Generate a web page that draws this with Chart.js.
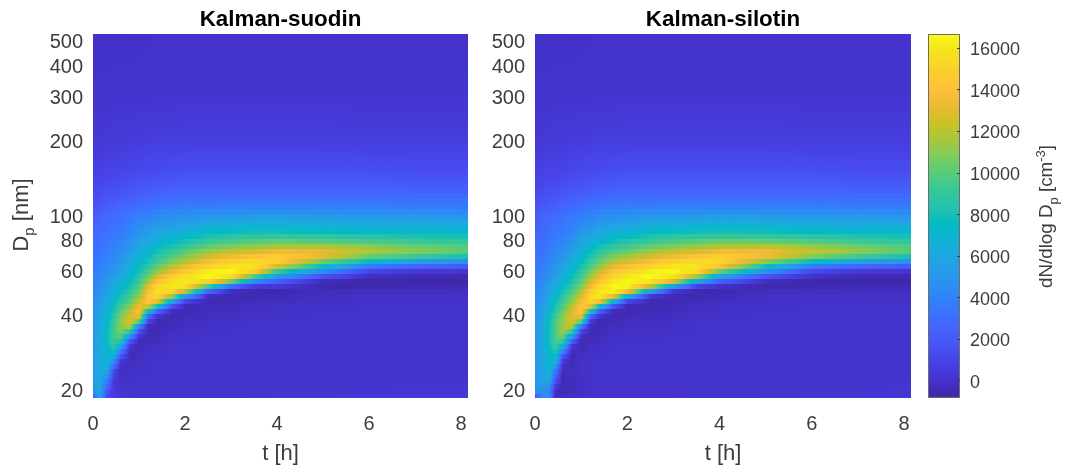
<!DOCTYPE html>
<html><head><meta charset="utf-8">
<script src="https://cdn.jsdelivr.net/npm/chart.js@4"></script>
<style>html,body{margin:0;padding:0;background:#fff;width:1066px;height:468px;overflow:hidden}canvas{position:absolute;top:0}</style>
</head><body>
<canvas id="a" width="480" height="468" style="left:0"></canvas>
<canvas id="b" width="440" height="468" style="left:480px"></canvas>
<canvas id="c" width="146" height="468" style="left:920px"></canvas>
<script>
const panelTitles=["Kalman-suodin","Kalman-silotin"];
const xTicks=[0,2,4,6,8];
const yTicks=[20,40,60,80,100,200,300,400,500];
const cbTicks=[0,2000,4000,6000,8000,10000,12000,14000,16000];
const tHours=[0,.15,.3,.45,.6,.8,1,1.2,1.4,1.7,2,2.5,3,3.5,4,5,6,7,8.17];
const dpNm=[18.6,20,22,24,26,28,30,32,34,36,38,40,42,44,46,48,50,52,54,56,58,60,62,64,66,68,70,73,76,80,85,90,100,110,125,150,200,300,538];
// thousands of cm^-3; one line per time, one value per diameter
const suodin=[
[1,5,5.2,5.2,5.2,5.2,5,5,5,4.9,4.8, 4.7,4.6,4.5,4.3,4.2,4.1,4,3.9,3.8,3.7,3.6, 3.5,3.4,3.3,3.2,3.1,3,2.9,2.8,2.6,2.4, 2.1,1.7,1.2,.7,.3,.05,-.1],
[6,6,6,6,6.1,6.2,6.3,6.3,6.2,6,5.9, 5.7,5.5,5.4,5.2,5,4.8,4.6,4.5,4.3,4.1,4, 3.9,3.8,3.6,3.5,3.4,3.3,3.2,3,2.9,2.7, 2.4,1.9,1.3,.8,.3,.05,-.1],
[1,2,4,6.5,6.9,7,7.3,7.5,7.4,7.2,7, 6.8,6.6,6.3,6.1,5.8,5.5,5.2,5,4.8,4.6,4.4, 4.3,4.2,4,3.9,3.8,3.6,3.5,3.3,3.1,2.9, 2.6,2.1,1.5,.9,.35,.05,-.1],
[.5,.5,.4,1.4,4.5,7.5,8.8,9.5,9.5,9.3,9, 8.6,8.1,7.7,7.3,6.9,6.5,6.1,5.8,5.5,5.2,5, 4.8,4.6,4.4,4.3,4.2,4,3.8,3.6,3.4,3.2, 2.8,2.3,1.6,.9,.4,.1,-.1],
[.3,.2,-.2,-.3,.3,2.5,6,9.3,10.8,11,11, 10.5,9.8,9,8.5,7.9,7.4,6.9,6.5,6.2,5.9,5.7, 5.4,5.2,5,4.8,4.7,4.4,4.2,3.9,3.6,3.4, 3,2.5,1.7,1,.4,.1,-.1],
[.1,0,0,-.2,-.4,-.4,.3,2.5,8,12,13, 12.5,11.5,10.5,9.8,9.2,8.7,8.2,7.8,7.4,7.1,6.8, 6.5,6.2,5.9,5.7,5.5,5.2,4.9,4.6,4.2,3.9, 3.4,2.7,1.9,1.1,.45,.1,-.1],
[.1,.1,0,0,-.2,-.4,-.5,-.4,.8,4,11, 14,14.2,13,12,11,10.2,9.7,9.2,8.8,8.4,8, 7.7,7.3,7,6.8,6.6,6.2,5.9,5.5,5,4.6, 3.8,2.9,2,1.2,.5,.1,-.05],
[.1,.1,0,0,0,-.1,-.3,-.5,-.5,-.4,1, 3.5,9,14,14.8,14.3,13.8,13,11.8,10.8,10,9.4, 8.9,8.4,8,7.6,7.3,6.8,6.4,5.9,5.4,4.9, 4.1,3.1,2.2,1.3,.55,.1,-.05],
[.1,.1,0,0,0,0,-.1,-.3,-.5,-.6,-.5, .2,3.5,10,14.5,15.5,15.8,15.5,14.5,13.5,12.3,11.2, 10.4,9.8,9.2,8.8,8.3,7.8,7.3,6.7,6,5.4, 4.4,3.3,2.3,1.35,.6,.15,0],
[.1,.1,0,0,0,0,0,-.1,-.2,-.4,-.5, -.6,-.2,2.5,7.5,13,15.5,16,15.8,15.3,14.3,13, 12,11.2,10.5,9.9,9.4,8.7,8,7.2,6.3,5.6, 4.6,3.5,2.4,1.45,.6,.15,0],
[.1,.1,0,0,0,0,0,0,-.1,-.2,-.3, -.5,-.6,-.4,1.5,6.5,13,15.8,16.2,16,15.4,14.5, 13.5,12.5,11.7,11,10.4,9.6,8.8,7.9,6.9,6, 4.7,3.6,2.5,1.5,.65,.15,0],
[.1,.1,0,0,0,0,0,0,0,-.1,-.2, -.3,-.4,-.5,-.5,-.2,3,9,14.5,16.3,16.6,16.2, 15.4,14.5,13.6,12.7,11.9,10.9,9.9,8.8,7.6,6.5, 5,3.6,2.5,1.5,.65,.15,0],
[.1,.1,0,0,0,0,0,0,0,0,-.1, -.2,-.3,-.4,-.6,-.6,-.3,2.5,9,14.5,16.2,16.5, 16.2,15.5,14.8,13.9,13,11.8,10.5,9.3,8,6.8, 5.1,3.6,2.5,1.5,.65,.15,0],
[.1,.1,0,0,0,0,0,0,0,0,0, -.1,-.2,-.3,-.4,-.6,-.6,.3,3,7,12,15, 15.9,15.8,15.4,14.5,13.5,12.2,10.9,9.6,8.2,7, 5.3,3.6,2.5,1.5,.65,.15,0],
[.2,.1,0,0,0,0,0,0,0,0,0, 0,-.1,-.2,-.3,-.5,-.7,.2,1.5,3.5,6.5,9, 12,14,15,15,14.5,13,11.3,9.8,8.2,7, 5.3,3.6,2.5,1.5,.65,.15,0],
[.2,.1,0,0,0,0,0,0,0,0,0, 0,0,-.1,-.2,-.3,-.3,-.7,-.7,.3,2.5,4.5, 6.7,9,10.7,12.8,13.4,13,11.3,9.5,8,6.8, 5.2,3.6,2.5,1.5,.65,.15,0],
[.3,.1,0,0,0,0,0,0,0,0,0, 0,0,0,-.1,-.1,-.3,-.7,-.8,-.5,0,1, 2.5,5,8,9.5,11.5,11.8,10.8,9.2,7.8,6.6, 5.1,3.6,2.5,1.5,.6,.15,0],
[.3,.2,.1,0,0,0,0,0,0,0,0, 0,0,0,0,-.1,-.2,-.6,-.8,-.7,-.5,.4, 1.8,3.5,6,8.3,10.5,11,10.2,8.9,7.6,6.5, 5,3.5,2.4,1.4,.6,.15,0],
[.3,.2,.1,0,0,0,0,0,0,0,0, 0,0,0,0,-.1,-.2,-.5,-.8,-.8,-.5,.2, 1.5,3,5,7.5,8.8,10.5,9.6,8.7,7.5,6.5, 4.8,3.5,2.4,1.4,.6,.15,0]
];
const silotin=[
[1,5,5.2,5.2,5.2,5.2,5,5,5,4.9,4.8, 4.7,4.6,4.5,4.3,4.2,4.1,4,3.9,3.8,3.7,3.6, 3.5,3.4,3.3,3.2,3.1,3,2.9,2.8,2.6,2.4, 2.1,1.7,1.2,.7,.3,.05,-.1],
[4,5,5.5,5.6,5.8,5.8,5.9,5.9,5.9,5.8,5.7, 5.5,5.3,5.1,4.9,4.8,4.6,4.5,4.3,4.1,3.9,3.8, 3.7,3.6,3.4,3.3,3.2,3.1,3,2.9,2.8,2.7, 2.4,1.9,1.3,.8,.3,.05,-.1],
[5,4,6.5,7,7.1,7.2,7.5,7.8,7.8,7.6,7.4, 7,6.7,6.4,6.1,5.9,5.6,5.4,5.1,4.9,4.7,4.5, 4.4,4.3,4.1,4,3.8,3.7,3.5,3.3,3.1,2.9, 2.6,2.1,1.5,.9,.35,.05,-.1],
[-.5,-.4,1.5,3.5,6.5,8,9.2,9.8,9.9,9.9,9.8, 9.2,8.6,8.1,7.7,7.2,6.8,6.4,6,5.7,5.4,5.2, 5,4.8,4.6,4.5,4.3,4.1,3.9,3.7,3.4,3.2, 2.8,2.3,1.6,.9,.4,.1,-.1],
[-.2,-.5,-.5,-.4,.3,2.5,7,10,11.3,11.6,11, 10.8,10.2,9.5,9,8.5,7.9,7.4,6.9,6.5,6.2,5.9, 5.7,5.5,5.3,5.1,4.9,4.6,4.3,4,3.7,3.4, 3,2.5,1.7,1,.4,.1,-.1],
[-.1,-.4,-.3,-.3,-.5,-.5,.3,3,8.5,12,13, 13,12.5,11.5,10.8,10.2,9.6,9,8.4,8,7.6,7.2, 6.9,6.5,6.2,6,5.7,5.3,5,4.6,4.2,3.9, 3.4,2.7,1.9,1.1,.45,.1,-.1],
[0,-.2,-.2,0,-.1,-.3,-.5,-.5,.3,3.5,11, 14,14.8,14.2,13.2,12.3,11.5,10.7,10.1,9.6,9.1,8.6, 8.2,7.8,7.4,7.1,6.8,6.4,6,5.6,5.1,4.6, 3.8,2.9,2,1.2,.5,.1,-.05],
[0,0,0,0,0,-.1,-.3,-.5,-.6,-.4,.6, 3.5,10,14.8,15.6,15.3,14.5,13.4,12.6,11.8,11.1,10.4, 9.8,9.3,8.8,8.4,8,7.4,6.9,6.2,5.6,5, 4.1,3.1,2.2,1.3,.55,.1,-.05],
[0,0,0,0,0,0,-.1,-.3,-.5,-.6,-.6, .2,3,10,15.5,16.2,16,15.4,14.6,13.8,13,12.2, 11.4,10.7,10.1,9.6,9.1,8.4,7.8,7,6.2,5.5, 4.4,3.3,2.3,1.35,.6,.15,0],
[0,0,0,0,0,0,0,-.1,-.2,-.3,-.5, -.6,-.4,2.5,8.5,14.5,16.5,16.6,16.2,15.6,14.9,14.1, 13.3,12.5,11.7,11,10.4,9.5,8.7,7.7,6.7,5.9, 4.6,3.5,2.4,1.45,.6,.15,0],
[0,0,0,0,0,0,0,0,-.1,-.2,-.3, -.5,-.6,-.5,1.5,8,14.5,16.3,16.6,16.3,15.8,15.1, 14.2,13.3,12.5,11.7,11,10,9.2,8.1,7,6.1, 4.8,3.6,2.5,1.5,.65,.15,0],
[0,0,0,0,0,0,0,0,-.1,-.2,-.3, -.4,-.5,-.6,-.5,.5,6,12,15.5,16.6,16.6,16.1, 15.4,14.6,13.7,12.8,12,11,10,8.9,7.7,6.6, 5,3.6,2.5,1.5,.65,.15,0],
[0,0,0,0,0,0,0,0,0,-.1,-.2, -.3,-.4,-.5,-.6,-.6,.3,5,11.5,15,16.2,16.5, 16.2,15.5,14.7,13.9,13,11.8,10.6,9.4,8,6.8, 5.1,3.6,2.5,1.5,.65,.15,0],
[.1,0,0,0,0,0,0,0,0,0,0, -.1,-.2,-.3,-.5,-.7,-.6,.6,4.5,9,13.5,15.5, 16,15.8,15.3,14.5,13.6,12.3,11,9.7,8.2,7, 5.2,3.6,2.5,1.5,.65,.15,0],
[.1,0,0,0,0,0,0,0,0,0,0, 0,-.1,-.2,-.3,-.5,-.7,-.2,1.5,4,7,10.5, 13.5,15,15.4,15,14.5,13.1,11.5,10,8.4,7.1, 5.3,3.6,2.5,1.5,.65,.15,0],
[.1,.1,0,0,0,0,0,0,0,0,0, 0,0,-.1,-.1,-.2,-.3,-.7,-.6,.5,2.5,4.8, 7,9.5,11.3,13.2,13.9,13.3,11.7,9.8,8.2,7, 5.2,3.6,2.5,1.5,.65,.15,0],
[.2,.1,0,0,0,0,0,0,0,0,0, 0,0,0,-.1,-.1,-.3,-.6,-.8,-.5,.2,1.2, 2.7,5.2,8.2,10,12,12.2,11,9.4,7.9,6.7, 5.1,3.6,2.5,1.5,.6,.15,0],
[.2,.1,.1,0,0,0,0,0,0,0,0, 0,0,0,0,-.1,-.2,-.5,-.8,-.7,-.5,.4, 1.8,3.5,6.2,8.5,10.7,11.2,10.3,9,7.7,6.5, 5,3.5,2.4,1.4,.6,.15,0],
[.2,.2,.1,0,0,0,0,0,0,0,0, 0,0,0,0,-.1,-.2,-.5,-.8,-.8,-.5,.2, 1.5,3,5,7.5,8.8,10.3,9.6,8.7,7.5,6.5, 4.8,3.5,2.4,1.4,.6,.15,0]
];
const parula=[[.2422,.1504,.6603],[.2647,.1978,.7952],[.2783,.2559,.8991],[.2810,.3228,.9579],[.2699,.3892,.9906],[.2206,.4603,.9973],[.1786,.5289,.9682],[.1540,.5902,.9218],[.1248,.6459,.8883],[.0689,.6948,.8394],[.0067,.7312,.7660],[.1408,.7584,.6842],[.2161,.7843,.5923],[.3406,.8008,.4789],[.5044,.7993,.3480],[.6720,.7793,.2227],[.8203,.7498,.1535],[.9393,.7288,.2100],[.9970,.7659,.2199],[.9786,.8217,.1665],[.9614,.8897,.1161],[.9769,.9839,.0805]];
const cMin=-850,cMax=16670,sans='"Liberation Sans",Arial,sans-serif',ink='#3c3c3c';
function colorOf(v){
  let f=Math.max(0,Math.min(1,(v-cMin)/(cMax-cMin)))*(parula.length-1),i=Math.min(parula.length-2,Math.floor(f)),k=f-i;
  return parula[i].map((c,n)=>255*(c+(parula[i+1][n]-c)*k));
}
function locate(arr,v){
  let i=0;while(i<arr.length-2&&arr[i+1]<v)i++;
  return [i,Math.max(0,Math.min(1,(v-arr[i])/(arr[i+1]-arr[i])))];
}
function locateLog(arr,v){
  let i=0;while(i<arr.length-2&&arr[i+1]<v)i++;
  return [i,Math.max(0,Math.min(1,Math.log(v/arr[i])/Math.log(arr[i+1]/arr[i])))];
}
const heat={id:'heat',beforeDatasetsDraw(ch){
  const grid=ch.config.options.grid3,{left,top,right,bottom}=ch.chartArea,ctx=ch.ctx;
  const L=Math.round(left),T=Math.round(top),W=Math.round(right)-L,H=Math.round(bottom)-T;
  const img=ctx.createImageData(W,H),X=ch.scales.x,Y=ch.scales.y;
  const xs=[];for(let p=0;p<W;p++)xs.push(locate(tHours,X.getValueForPixel(L+p+.5)));
  for(let r=0;r<H;r++){
    const band=r<155?r+.5:Math.floor(r/5)*5+2.5,[j,fy]=locateLog(dpNm,Y.getValueForPixel(T+band));
    for(let p=0;p<W;p++){
      const [i,fx]=xs[p];
      const a=grid[i][j]*(1-fy)+grid[i][j+1]*fy,b=grid[i+1][j]*(1-fy)+grid[i+1][j+1]*fy;
      const c=colorOf((a*(1-fx)+b*fx)*1000),o=(r*W+p)*4;
      img.data[o]=c[0];img.data[o+1]=c[1];img.data[o+2]=c[2];img.data[o+3]=255;
    }
  }
  ctx.putImageData(img,L,T);
}};
function rich(ctx,x,y,pieces){
  ctx.save();ctx.translate(x,y);ctx.rotate(-Math.PI/2);ctx.textAlign='left';ctx.textBaseline='alphabetic';ctx.fillStyle=ink;
  let w=0;for(const p of pieces){ctx.font=p[1]+'px '+sans;w+=ctx.measureText(p[0]).width;}
  let at=-w/2;for(const p of pieces){ctx.font=p[1]+'px '+sans;ctx.fillText(p[0],at,p[2]);at+=ctx.measureText(p[0]).width;}
  ctx.restore();
}
const yLabel={id:'yLabel',afterDraw(ch){rich(ch.ctx,28,215,[['D',22,0],['p',15,6],[' [nm]',22,0]]);}};
function panel(id,grid,title,yW,padR,plugins){
  const pts=[];tHours.forEach((t,i)=>dpNm.forEach((d,j)=>pts.push({x:t,y:d,v:grid[i][j]*1000})));
  return new Chart(document.getElementById(id),{type:'scatter',
    data:{datasets:[{data:pts,pointRadius:0,showLine:false}]},plugins:[heat].concat(plugins),
    options:{grid3:grid,responsive:false,animation:false,devicePixelRatio:1,layout:{padding:{left:0,right:padR,top:0,bottom:0}},
      plugins:{legend:{display:false},tooltip:{enabled:false},
        title:{display:true,fullSize:false,text:title,color:'#000',font:{family:sans,size:22.4,weight:'bold'},padding:{top:6,bottom:1.1}}},
      scales:{
        x:{type:'linear',min:0,max:8.15,afterBuildTicks(s){s.ticks=xTicks.map(v=>({value:v}));},afterFit(s){s.height=70;},
          border:{display:false},grid:{display:false},
          ticks:{color:ink,font:{family:sans,size:20},padding:6,maxRotation:0,callback:v=>String(v)},
          title:{display:true,text:'t [h]',color:ink,font:{family:sans,size:22},padding:{top:0,bottom:1}}},
        y:{type:'logarithmic',min:18.6,max:538,afterBuildTicks(s){s.ticks=yTicks.map(v=>({value:v}));},afterFit(s){s.width=yW;},
          border:{display:false},grid:{display:false},
          ticks:{color:ink,font:{family:sans,size:20},padding:2,labelOffset:1,autoSkip:false,callback:v=>String(v)}}
      }}});
}
panel('a',suodin,panelTitles[0],93,12,[yLabel]);
panel('b',silotin,panelTitles[1],55,9,[]);
const colorbar={id:'colorbar',beforeDatasetsDraw(ch){
  const {left,top,right,bottom}=ch.chartArea,ctx=ch.ctx,Y=ch.scales.y;
  for(let p=Math.round(top);p<Math.round(bottom);p++){
    const c=colorOf(Y.getValueForPixel(p+.5));ctx.fillStyle=`rgb(${c[0]},${c[1]},${c[2]})`;ctx.fillRect(left,p,right-left,1);
  }
},afterDraw(ch){
  const {left,top,right,bottom}=ch.chartArea,ctx=ch.ctx,Y=ch.scales.y;
  ctx.strokeStyle='#6e6e6e';ctx.lineWidth=1;ctx.strokeRect(left+.5,top+.5,right-left-1,bottom-top-1);
  ctx.strokeStyle='#404040';
  cbTicks.forEach(v=>{const y=Math.round(Y.getPixelForValue(v))+.5;ctx.beginPath();ctx.moveTo(right-3,y);ctx.lineTo(right,y);ctx.stroke();});
  rich(ctx,132,216.5,[['dN/dlog D',18.8,0],['p',13,6],[' [cm',18.8,0],['-3',13,-7],[']',18.8,0]]);
}};
new Chart(document.getElementById('c'),{type:'scatter',data:{datasets:[{data:cbTicks.map(v=>({x:0,y:v})),pointRadius:0}]},plugins:[colorbar],
  options:{responsive:false,animation:false,devicePixelRatio:1,layout:{padding:{left:8,right:0,top:34,bottom:70}},
    plugins:{legend:{display:false},tooltip:{enabled:false}},
    scales:{x:{display:false,min:0,max:1},
      y:{position:'right',min:cMin,max:cMax,afterBuildTicks(s){s.ticks=cbTicks.map(v=>({value:v}));},afterFit(s){s.width=106;},
        border:{display:false},grid:{display:false},
        ticks:{color:ink,font:{family:sans,size:18},padding:2,labelOffset:2.5,callback:v=>String(v)}}}}});
</script>
</body></html>
